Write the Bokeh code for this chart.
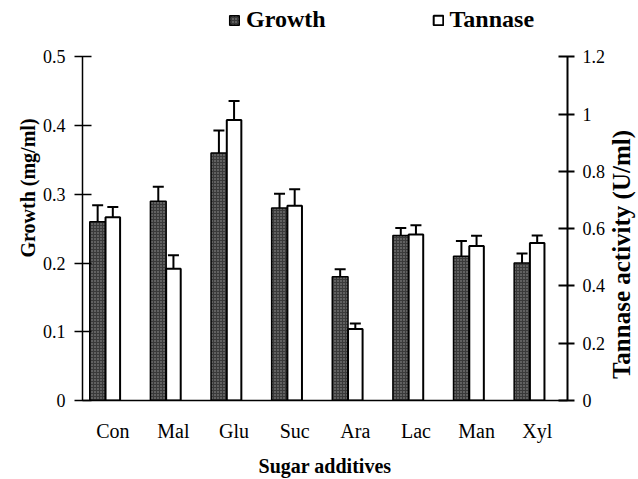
from bokeh.plotting import figure
from bokeh.models import (ColumnDataSource, FactorRange, Range1d, LinearAxis, FixedTicker,
                          Whisker, TeeHead, Legend, LegendItem, Label)
from bokeh.transform import dodge
from bokeh.embed import file_html
from bokeh.resources import INLINE
import math

categories = ["Con", "Mal", "Glu", "Suc", "Ara", "Lac", "Man", "Xyl"]
growth = [0.26, 0.29, 0.36, 0.28, 0.18, 0.24, 0.21, 0.20]
growth_err = [0.024, 0.021, 0.033, 0.021, 0.011, 0.011, 0.022, 0.014]
tannase = [0.64, 0.46, 0.98, 0.68, 0.25, 0.58, 0.54, 0.55]
tannase_err = [0.036, 0.047, 0.066, 0.058, 0.019, 0.032, 0.035, 0.026]
left_ticks = [0, 0.1, 0.2, 0.3, 0.4, 0.5]
right_ticks = [0, 0.2, 0.4, 0.6, 0.8, 1.0, 1.2]
left_max, right_max = 0.5, 1.2

src = ColumnDataSource(dict(
    cat=categories, growth=growth, tannase=tannase,
    g_lo=[g - e for g, e in zip(growth, growth_err)],
    g_hi=[g + e for g, e in zip(growth, growth_err)],
    t_lo=[t - e for t, e in zip(tannase, tannase_err)],
    t_hi=[t + e for t, e in zip(tannase, tannase_err)],
))

FONT = "Liberation Serif"
HEADROOM = 1.1642  # room above the axes for the legend
NB = "\u00a0"

p = figure(x_range=FactorRange(*categories, range_padding=0),
           y_range=Range1d(0, left_max * HEADROOM),
           width=638, height=479, output_backend="svg", toolbar_location=None,
           min_border_left=82, min_border_right=71, min_border_top=0, min_border_bottom=77)
p.extra_y_ranges = {"tan": Range1d(0, right_max * HEADROOM)}
p.outline_line_color = None
p.grid.grid_line_color = None
p.background_fill_color = "white"

gb = p.vbar(x=dodge("cat", -0.25, range=p.x_range), top="growth", width=0.26, source=src,
            fill_color="#3a3a3a", line_color="black", line_width=1.5,
            hatch_pattern="dot", hatch_color="#9a9a9a", hatch_scale=3, hatch_weight=1)
tb = p.vbar(x=dodge("cat", 0.0, range=p.x_range), top="tannase", width=0.24, source=src,
            fill_color="white", line_color="black", line_width=2, y_range_name="tan")

wg = Whisker(base=dodge("cat", -0.25, range=p.x_range), lower="g_lo", upper="g_hi", source=src,
             line_color="black", line_width=2,
             upper_head=TeeHead(size=11, line_width=2, line_color="black"),
             lower_head=TeeHead(size=11, line_width=2, line_color="black"))
wt = Whisker(base=dodge("cat", 0.0, range=p.x_range), lower="t_lo", upper="t_hi", source=src,
             line_color="black", line_width=2, y_range_name="tan",
             upper_head=TeeHead(size=11, line_width=2, line_color="black"),
             lower_head=TeeHead(size=11, line_width=2, line_color="black"))
p.add_layout(wg)
p.add_layout(wt)

# left axis
ya = p.yaxis[0]
ya.bounds = (0, left_max)
ya.ticker = FixedTicker(ticks=left_ticks)
ya.major_label_overrides = {0: "0"}
ya.axis_label = NB * 5 + "Growth (mg/ml)"
ya.axis_label_text_font = FONT
ya.axis_label_text_font_style = "bold"
ya.axis_label_text_font_size = "20px"
ya.axis_label_text_color = "black"
ya.major_label_text_font = FONT
ya.major_label_text_font_size = "18px"
ya.major_label_text_color = "black"
ya.axis_line_color = "black"
ya.axis_line_width = 1.5
ya.major_tick_out = 8
ya.major_tick_in = 9
ya.major_tick_line_width = 1.5
ya.minor_tick_line_color = None
ya.major_label_standoff = 9
ya.axis_label_standoff = 1

# right axis
ra = LinearAxis(y_range_name="tan", ticker=FixedTicker(ticks=right_ticks), bounds=(0, right_max))
ra.major_label_overrides = {0: "0", 1: "1"}
ra.major_label_text_font = FONT
ra.major_label_text_font_size = "18px"
ra.major_label_text_color = "black"
ra.axis_line_color = "black"
ra.axis_line_width = 2
ra.major_tick_out = 7
ra.major_tick_in = 9
ra.major_tick_line_width = 2
ra.minor_tick_line_color = None
ra.major_label_standoff = 8
p.add_layout(ra, "right")

right_title = Label(x=621, y=254, x_units="canvas", y_units="canvas",
                    text="Tannase activity (U/ml)", angle=math.pi / 2, angle_units="rad",
                    text_align="center", text_baseline="middle",
                    text_font=FONT, text_font_style="bold", text_font_size="25px",
                    text_color="black")
p.add_layout(right_title, "right")

# x axis
xa = p.xaxis[0]
xa.axis_label = "Sugar additives"
xa.axis_label_text_font = FONT
xa.axis_label_text_font_style = "bold"
xa.axis_label_text_font_size = "20px"
xa.axis_label_text_color = "black"
xa.major_label_text_font = FONT
xa.major_label_text_font_size = "20px"
xa.major_label_text_color = "black"
xa.axis_line_color = "black"
xa.axis_line_width = 1.5
xa.major_tick_line_color = None
xa.minor_tick_line_color = None
xa.major_label_standoff = 13
xa.axis_label_standoff = 10

legend = Legend(items=[LegendItem(label="Growth", renderers=[gb]),
                       LegendItem(label="Tannase", renderers=[tb])],
                orientation="horizontal", location=(146, 367),
                label_text_font=FONT, label_text_font_style="bold", label_text_font_size="24px",
                label_text_color="black",
                glyph_width=12, glyph_height=12, label_standoff=6, spacing=106,
                border_line_color=None, background_fill_alpha=0, padding=0, margin=0)
p.add_layout(legend, "center")

open("out.html", "w").write(file_html(p, INLINE))
